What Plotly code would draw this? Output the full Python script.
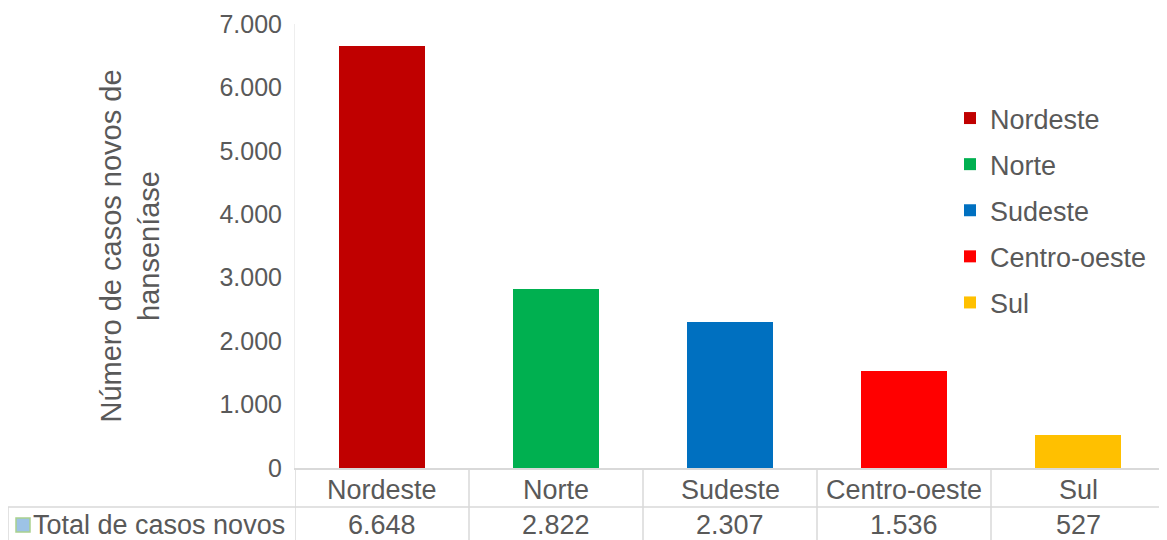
import plotly.graph_objects as go

categories = ["Nordeste", "Norte", "Sudeste", "Centro-oeste", "Sul"]
values = [6648, 2822, 2307, 1536, 527]
colors = ["#C00000", "#00B050", "#0070C0", "#FF0000", "#FFC000"]
row_label = "Total de casos novos"
y_title = "Número de casos novos de<br>hanseníase"
y_ticks = [0, 1000, 2000, 3000, 4000, 5000, 6000, 7000]

FONT = "Liberation Sans, Arial, sans-serif"
TXT = "#595959"
GRID = "#d9d9d9"

# page offset caused by default body margin
OFF = 8
W, H = 1167, 540
L = 295 - OFF
T = 24 - OFF
R = W - (1165 - OFF)
B = H - (468 - OFF)
pw, ph = W - L - R, H - T - B

def px_x(x):
    return (x - OFF - L) / pw

def px_y(y):
    return (H - B - (y - OFF)) / ph

def fmt(v):
    return f"{v:,}".replace(",", ".")

fig = go.Figure()
for c, v, col in zip(categories, values, colors):
    fig.add_trace(go.Bar(x=[c], y=[v], name=c, marker=dict(color=col, line=dict(width=0)),
                         width=0.49, legendgroup=c, showlegend=True))

shapes = []
for k in range(len(categories) + 1):
    shapes.append(dict(type="line", xref="x", yref="paper", x0=k - 0.5, x1=k - 0.5,
                       y0=0, y1=px_y(560), line=dict(color=GRID, width=1.5)))
shapes.append(dict(type="line", xref="paper", yref="paper", x0=px_x(8), x1=1,
                   y0=px_y(507), y1=px_y(507), line=dict(color=GRID, width=1.5)))
shapes.append(dict(type="line", xref="paper", yref="paper", x0=px_x(8), x1=px_x(8),
                   y0=px_y(507), y1=px_y(560), line=dict(color=GRID, width=1.5)))
shapes.append(dict(type="rect", xref="paper", yref="paper", x0=px_x(16), x1=px_x(30),
                   y0=px_y(532), y1=px_y(518), fillcolor="#9DC3E6",
                   line=dict(color="#A9D18E", width=1.5)))

annotations = []
for c, v in zip(categories, values):
    annotations.append(dict(x=c, xref="x", y=0, yref="paper", yanchor="middle", yshift=-22,
                            text=c, showarrow=False, font=dict(family=FONT, size=27, color=TXT)))
    annotations.append(dict(x=c, xref="x", y=0, yref="paper", yanchor="middle", yshift=-57,
                            text=fmt(v), showarrow=False, font=dict(family=FONT, size=27, color=TXT)))
annotations.append(dict(x=px_x(31), xref="paper", xanchor="left", y=0, yref="paper",
                        yanchor="middle", yshift=-57, text=row_label, showarrow=False,
                        font=dict(family=FONT, size=27, color=TXT)))

fig.update_layout(
    width=W, height=H,
    margin=dict(l=L, r=R, t=T, b=B, autoexpand=False),
    paper_bgcolor="white", plot_bgcolor="white",
    barmode="stack",
    separators=",.",
    font=dict(family=FONT, size=27, color=TXT),
    showlegend=True,
    legend=dict(x=px_x(950), y=px_y(94), xanchor="left", yanchor="top",
                font=dict(family=FONT, size=27, color=TXT), tracegroupgap=8,
                bgcolor="rgba(0,0,0,0)"),
    shapes=shapes,
    annotations=annotations,
    xaxis=dict(range=[-0.5, len(categories) - 0.5], showticklabels=False, ticks="",
               showgrid=False, showline=True, linecolor=GRID, linewidth=1.5, zeroline=False,
               fixedrange=True),
    yaxis=dict(range=[0, 7000], tickvals=y_ticks, tickformat=",d", showgrid=False,
               zeroline=False, showline=True, linecolor="#eeeeee", linewidth=1,
               ticks="", ticklabelstandoff=7,
               tickfont=dict(family=FONT, size=25, color=TXT),
               title=dict(text=y_title, standoff=51, font=dict(family=FONT, size=29, color=TXT))),
)

fig.write_html("out.html")
